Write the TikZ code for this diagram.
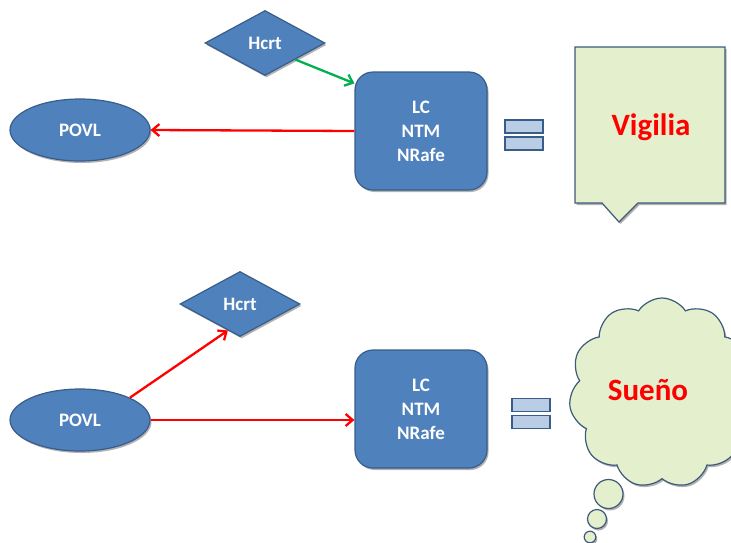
\documentclass[tikz,border=0pt]{standalone}
\usepackage{fontspec}
\setmainfont{Carlito}
\usetikzlibrary{shapes.geometric,shapes.symbols,shadows,arrows.meta,calc}
\definecolor{boxblue}{HTML}{4F81BD}
\definecolor{edgeblue}{HTML}{385D8A}
\definecolor{eqfill}{HTML}{B9CDE5}
\definecolor{paleGreen}{HTML}{E3EFCD}
\definecolor{calloutEdge}{HTML}{3E5A7A}
\definecolor{arrowGreen}{HTML}{00B050}
\tikzset{
  shade/.style={drop shadow={shadow xshift=1.5pt, shadow yshift=-2pt, opacity=0.3, fill=black}},
  bluefill/.style={fill=boxblue, draw=edgeblue, line width=1.2pt, shade,
    text=white, font=\fontsize{19}{24}\selectfont\bfseries, align=center},
  hcrt/.style={bluefill, diamond, inner sep=0pt, minimum width=120pt, minimum height=65pt},
  povl/.style={bluefill, ellipse, inner sep=0pt, minimum width=140pt, minimum height=62pt},
  nuclei/.style={bluefill, rectangle, rounded corners=18pt, minimum width=132pt, minimum height=118pt},
  eqbar/.style={rectangle, fill=eqfill, draw=edgeblue, line width=1.2pt, minimum width=38pt, minimum height=13pt, inner sep=0pt},
  link/.style={line width=2.3pt, -{Straight Barb[length=7pt,width=12pt,line width=2.3pt]}},
  state/.style={text=red, font=\fontsize{31}{36}\selectfont\bfseries},
  bubble/.style={fill=paleGreen, draw=calloutEdge, line width=1.2pt, shade}
}
\begin{document}
\begin{tikzpicture}[x=1pt,y=-1pt]
\useasboundingbox (0,0) rectangle (731,542);
\clip (0,0) rectangle (731,542);

% ---- wakefulness (upper row) ----
\node[hcrt] (h1) at (265,43) {Hcrt};
\node[nuclei] (b1) at (421,131) {LC\\NTM\\NRafe};
\node[povl] (e1) at (80,130) {POVL};
\draw[link, red] (b1.west) -- (e1.east);
\draw[link, arrowGreen] (h1.south east) -- ([yshift=-12pt]b1.north west);

\node[eqbar] (q1a) at (524,126.5) {};
\node[eqbar] (q1b) at (524,143.5) {};

\draw[bubble] (575,47) -- (725,47) -- (725,203) -- (638,203) -- (619,222) -- (602,203) -- (575,203) -- cycle;
\node[state] (wake) at (651,127) {Vigilia};

% ---- sleep (lower row) ----
\node[hcrt] (h2) at (240,304) {Hcrt};
\node[nuclei] (b2) at (421,409) {LC\\NTM\\NRafe};
\node[povl] (e2) at (80,420) {POVL};
\draw[link, red] (e2.north east) -- ($(h2.south)!0.2!(h2.west)$);
\draw[link, red] (e2.east) -- (e2.east -| b2.west);

\node[eqbar] (q2a) at (531,405) {};
\node[eqbar] (q2b) at (531,422) {};

\node[bubble, cloud, cloud puffs=11, cloud puff arc=115, aspect=1,
      minimum width=186pt, minimum height=190pt, inner sep=0pt] (dream) at (662,393) {};
\node[state] (sleep) at (648,390) {Sueño};
\draw[bubble] (608.5,494) circle (14.5);
\draw[bubble] (597,519) circle (9.5);
\draw[bubble] (590,537) circle (5.8);
\end{tikzpicture}
\end{document}
